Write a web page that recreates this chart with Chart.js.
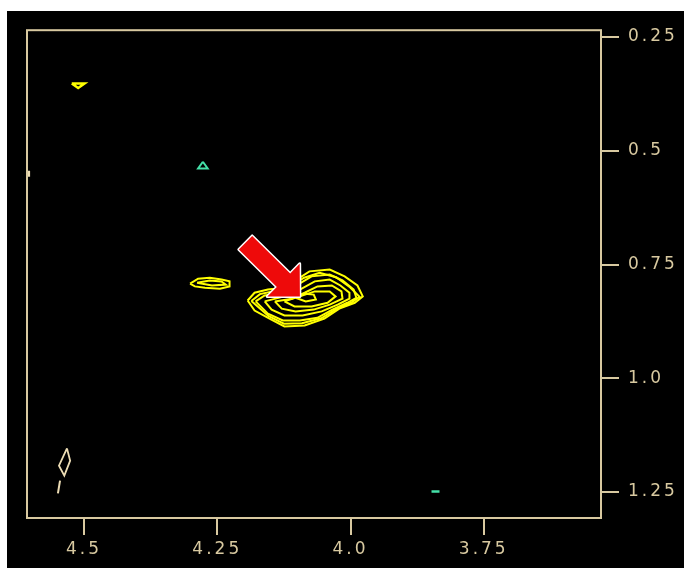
<!DOCTYPE html>
<html>
<head>
<meta charset="utf-8">
<script src="https://cdn.jsdelivr.net/npm/chart.js@4.4.1/dist/chart.umd.min.js"></script>
<style>
  html, body { margin: 0; padding: 0; background: #fff; }
  #wrap { position: absolute; left: 7px; top: 11px; width: 677px; height: 557px; background: #000; }
</style>
</head>
<body>
<div id="wrap"><canvas id="chart"></canvas></div>
<script>
// axis ticks (ppm)
const xTicks = [4.5, 4.25, 4.0, 3.75];
const xTickLabels = ['4.5', '4.25', '4.0', '3.75'];
const yTicks = [0.25, 0.5, 0.75, 1.0, 1.25];
const yTickLabels = ['0.25', '0.5', '0.75', '1.0', '1.25'];

// main peak contours [F2 ppm, F1 ppm]
const peakC1 = [[4.193,0.829],[4.180,0.812],[4.155,0.805],[4.124,0.801],[4.101,0.783],[4.077,0.765],[4.039,0.761],[4.011,0.776],[3.987,0.796],[3.977,0.820],[3.992,0.834],[4.021,0.847],[4.049,0.869],[4.086,0.884],[4.124,0.886],[4.152,0.869],[4.180,0.851],[4.193,0.829]];
const peakC1b = [[4.186,0.830],[4.170,0.815],[4.142,0.808],[4.112,0.797],[4.087,0.779],[4.058,0.768],[4.027,0.778],[4.001,0.800],[3.983,0.821],[3.999,0.834],[4.027,0.848],[4.055,0.868],[4.091,0.879],[4.125,0.880],[4.154,0.863],[4.186,0.830]];
const peakC2 = [[4.178,0.831],[4.161,0.818],[4.129,0.812],[4.099,0.794],[4.073,0.776],[4.039,0.772],[4.015,0.785],[3.994,0.805],[3.989,0.823],[4.006,0.834],[4.034,0.849],[4.062,0.867],[4.095,0.873],[4.127,0.873],[4.155,0.858],[4.178,0.831]];
const peakC3 = [[4.161,0.831],[4.124,0.820],[4.095,0.805],[4.067,0.787],[4.039,0.783],[4.019,0.796],[4.002,0.812],[4.002,0.825],[4.024,0.838],[4.054,0.853],[4.090,0.862],[4.124,0.862],[4.148,0.849],[4.161,0.831]];
const peakC4 = [[4.142,0.831],[4.110,0.825],[4.086,0.812],[4.062,0.798],[4.035,0.796],[4.017,0.809],[4.015,0.825],[4.039,0.838],[4.069,0.849],[4.103,0.853],[4.129,0.847],[4.142,0.831]];
const peakC5 = [[4.124,0.831],[4.095,0.820],[4.067,0.809],[4.039,0.809],[4.028,0.820],[4.043,0.834],[4.073,0.842],[4.105,0.842],[4.124,0.831]];
const peakC6 = [[4.103,0.823],[4.086,0.814],[4.069,0.816],[4.065,0.827],[4.084,0.831],[4.103,0.823]];

// smaller peaks
const leftC1 = [[4.301,0.792],[4.286,0.781],[4.264,0.779],[4.242,0.783],[4.227,0.787],[4.227,0.798],[4.245,0.803],[4.273,0.801],[4.292,0.798],[4.301,0.792]];
const leftC2 = [[4.288,0.790],[4.264,0.785],[4.242,0.787],[4.234,0.794],[4.260,0.796],[4.288,0.790]];
const topLeft = [[4.523,0.352],[4.499,0.352],[4.511,0.362],[4.523,0.352]];
const cyanTri = [[4.277,0.524],[4.268,0.539],[4.286,0.539],[4.277,0.524]];
const cyanDash = [[3.848,1.249],[3.833,1.249]];
const beigeA = [[4.532,1.154],[4.526,1.181],[4.537,1.214],[4.547,1.192],[4.532,1.154]];
const beigeB = [[4.545,1.225],[4.549,1.253]];
const edgeMark = [[4.604,0.544],[4.604,0.557]];

// arrow pointing at the peak
const arrowTail = [4.197, 0.702];
const arrowTip = [4.095, 0.820];

const FRAME = '#d8c9a0';
const YELLOW = '#ffff00';
const CYAN = '#44e0a8';
const BEIGE = '#ecdcb4';

function contour(pts, color, width) {
    return {
        data: pts.map(p => ({ x: p[0], y: p[1] })),
        borderColor: color,
        backgroundColor: color,
        borderWidth: width || 2,
        showLine: true,
        fill: false,
        tension: 0,
        pointRadius: 0
    };
}

const framePlugin = {
    id: 'frame',
    beforeLayout(chart) {
        chart.ctx.letterSpacing = '3px';
    },
    afterDraw(chart) {
        const { ctx, chartArea: a } = chart;
        ctx.save();
        ctx.strokeStyle = FRAME;
        ctx.lineWidth = 2;
        ctx.strokeRect(a.left, a.top, a.right - a.left, a.bottom - a.top);
        ctx.restore();
    }
};

const arrowPlugin = {
    id: 'arrow',
    afterDatasetsDraw(chart) {
        const ctx = chart.ctx;
        const xs = chart.scales.x, ys = chart.scales.y;
        const tx = xs.getPixelForValue(arrowTail[0]), ty = ys.getPixelForValue(arrowTail[1]);
        const hx = xs.getPixelForValue(arrowTip[0]), hy = ys.getPixelForValue(arrowTip[1]);
        const len = Math.hypot(hx - tx, hy - ty);
        const dx = (hx - tx) / len, dy = (hy - ty) / len;
        const px = -dy, py = dx;
        const sw = 9.5, hw = 23, hl = 23;
        const nx = hx - dx * hl, ny = hy - dy * hl;
        ctx.save();
        ctx.beginPath();
        ctx.moveTo(tx + px * sw, ty + py * sw);
        ctx.lineTo(nx + px * sw, ny + py * sw);
        ctx.lineTo(nx + px * hw, ny + py * hw);
        ctx.lineTo(hx, hy);
        ctx.lineTo(nx - px * hw, ny - py * hw);
        ctx.lineTo(nx - px * sw, ny - py * sw);
        ctx.lineTo(tx - px * sw, ty - py * sw);
        ctx.closePath();
        ctx.lineJoin = 'round';
        ctx.strokeStyle = '#ffffff';
        ctx.lineWidth = 3;
        ctx.stroke();
        ctx.fillStyle = '#ee0a0a';
        ctx.fill();
        ctx.restore();
    }
};

const ctx = document.getElementById('chart').getContext('2d');
const chart = new Chart(ctx, {
    type: 'scatter',
    data: {
        datasets: [
            contour(peakC1, YELLOW),
            contour(peakC1b, YELLOW),
            contour(peakC2, YELLOW),
            contour(peakC3, YELLOW),
            contour(peakC4, YELLOW),
            contour(peakC5, YELLOW),
            contour(peakC6, YELLOW),
            contour(leftC1, YELLOW),
            contour(leftC2, YELLOW),
            contour(topLeft, YELLOW, 2.5),
            contour(cyanTri, CYAN, 2),
            contour(cyanDash, CYAN, 2.5),
            contour(beigeA, BEIGE, 1.8),
            contour(beigeB, BEIGE, 2),
            contour(edgeMark, BEIGE, 3)
        ]
    },
    options: {
        responsive: true,
        maintainAspectRatio: false,
        animation: false,
        layout: { padding: { left: 20, top: 19, right: 0, bottom: 0 } },
        plugins: {
            legend: { display: false },
            tooltip: { enabled: false }
        },
        scales: {
            x: {
                type: 'linear',
                position: 'bottom',
                reverse: true,
                min: 3.53,
                max: 4.607,
                afterBuildTicks: s => { s.ticks = xTicks.map(v => ({ value: v })); },
                afterFit: s => { s.height = 50; },
                border: { display: false },
                grid: { drawOnChartArea: false, drawTicks: true, tickLength: 17, color: FRAME, lineWidth: 2 },
                ticks: {
                    color: FRAME,
                    padding: 4,
                    maxRotation: 0,
                    autoSkip: false,
                    font: { family: 'DejaVu Sans', size: 17 },
                    callback: (v, i) => xTickLabels[i]
                }
            },
            y: {
                type: 'linear',
                position: 'right',
                reverse: true,
                min: 0.235,
                max: 1.307,
                afterBuildTicks: s => { s.ticks = yTicks.map(v => ({ value: v })); },
                afterFit: s => { s.width = 83; },
                border: { display: false },
                grid: { drawOnChartArea: false, drawTicks: true, tickLength: 18, color: FRAME, lineWidth: 2 },
                ticks: {
                    color: FRAME,
                    padding: 9,
                    autoSkip: false,
                    font: { family: 'DejaVu Sans', size: 17 },
                    callback: (v, i) => yTickLabels[i]
                }
            }
        }
    },
    plugins: [framePlugin, arrowPlugin]
});
</script>
</body>
</html>
